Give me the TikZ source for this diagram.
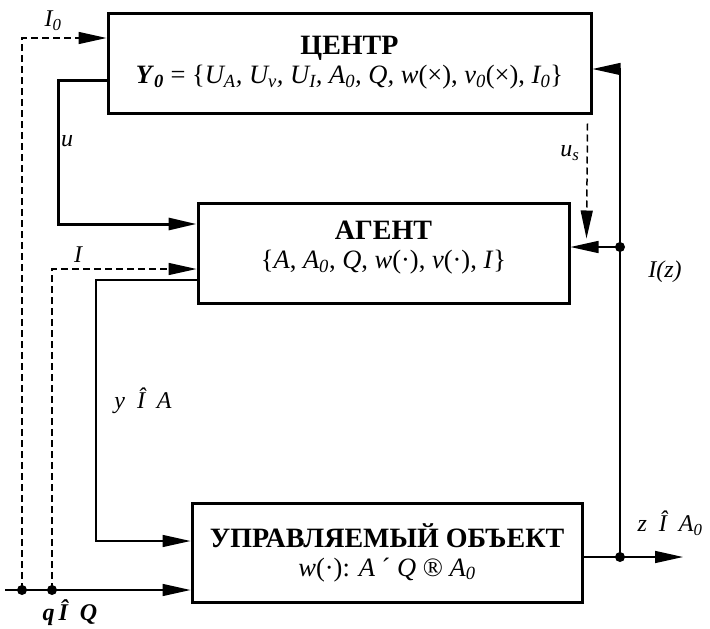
\documentclass[tikz,border=0pt]{standalone}
\usepackage{fontspec}
\setmainfont{Liberation Serif}
\usepackage{tikz}
\usetikzlibrary{arrows.meta, calc}

\newcommand{\ssub}[1]{\textsubscript{#1}}
\newcommand{\ttl}[1]{{\fontsize{28}{31}\selectfont\bfseries #1}}

\tikzset{
	blk/.style = {draw, line width=3pt, align=center, inner sep=0pt, font=\fontsize{26.5}{31}\selectfont},
	lbl/.style = {font=\fontsize{24}{28}\selectfont\itshape},
	arr/.style = {-{Triangle[length=28pt,width=12pt]}},
	thinl/.style = {line width=1.5pt},
	thickl/.style = {line width=3pt},
	dsh/.style = {line width=1.5pt, dash pattern=on 7pt off 4pt},
	jdot/.style = {circle, fill, inner sep=0pt, minimum size=10pt}
}

\begin{document}
\begin{tikzpicture}[x=1pt, y=-1pt]
	\useasboundingbox (0,0) rectangle (710,629);
	% blocks
	\node[blk, minimum width=483pt, minimum height=100pt] (center) at (349.5,63)
		{\ttl{ЦЕНТР}\\[-2pt] \textbf{\textit{Y}\ssub{\textit{0}}} = \{\textit{U\ssub{A}, U\ssub{v}, U\ssub{I}, A\ssub{0}, Q, w}(×), \textit{v\ssub{0}}(×), \textit{I\ssub{0}}\}};
	\node[blk, minimum width=371pt, minimum height=100pt] (agent) at (383.5,253) {};
	\node[font=\fontsize{26.5}{31}\selectfont, align=center] (agenttxt) at (383.5,248)
		{\ttl{АГЕНТ}\\[-2pt] \{\textit{A}, \textit{A\ssub{0}}, \textit{Q}, \textit{w}(·), \textit{v}(·), \textit{I}\}};
	\node[blk, minimum width=390pt, minimum height=99pt] (object) at (387,552.5)
		{\ttl{УПРАВЛЯЕМЫЙ ОБЪЕКТ}\\[-2pt] \textit{w}(·): \textit{A} ´ \textit{Q} ® \textit{A\ssub{0}}};

	% junctions
	\coordinate (qin) at (5,590);
	\node[jdot] (q1) at (22,590) {};
	\node[jdot] (q2) at (52,590) {};
	\node[jdot] (zout) at (620,557) {};
	\node[jdot] (zag) at (620,247) {};
	\coordinate (zend) at (683,557);

	% connectors
	\draw[dsh, arr] (q1.center) |- ($(center.west) + (0,-25)$);
	\draw[thickl, arr] ($(center.west) + (0,17)$) -| (58,150) |- ($(agent.west) + (0,-29)$);
	\draw[dsh, arr] (q2.center) |- ($(agent.west) + (0,16)$);
	\draw[thinl, arr] ($(agent.west) + (0,27)$) -| (96,400) |- ($(object.west) + (0,-11.5)$);
	\draw[thinl, arr] (qin) -- ($(object.west) + (0,37.5)$);
	\draw[thinl, arr] ($(object.east) + (0,4.5)$) -- (zend);
	\draw[thinl, arr] (zout.center) |- ($(center.east) + (0,6)$);
	\draw[thinl, arr] (zag.center) -- ($(agent.east) + (0,-6)$);
	\draw[dsh, arr] ($(center.south east) + (-5,9)$) -- ($(agent.north east) + (16,37)$);

	% labels
	\node[lbl] (lI0) at (53,21) {I\ssub{0}};
	\node[lbl] (lu) at (67,141) {u};
	\node[lbl] (lI) at (78,255) {I};
	\node[lbl] (ly) at (143,401) {y\enspace Î\enspace A};
	\node[lbl, font=\fontsize{24}{28}\selectfont\bfseries\itshape] (lq) at (70,613) {q\,Î\enspace Q};
	\node[lbl] (lus) at (570,153) {u\ssub{s}};
	\node[lbl] (lIz) at (665,272) {I(z)};
	\node[lbl] (lz) at (670,523) {z\enspace Î\enspace A\ssub{0}};
\end{tikzpicture}
\end{document}
